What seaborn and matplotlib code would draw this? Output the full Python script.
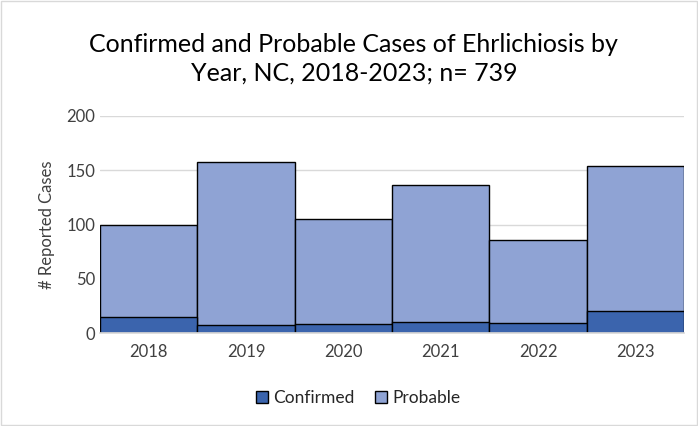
import matplotlib.pyplot as plt
import seaborn as sns
import pandas as pd
from matplotlib.patches import Patch

years = ["2018", "2019", "2020", "2021", "2022", "2023"]
confirmed = [15, 7, 8, 10, 9, 20]
probable = [85, 151, 97, 126, 77, 134]

sns.set_theme(style="white")
plt.rcParams["font.family"] = ["Lato", "DejaVu Sans"]

df = pd.DataFrame({"year": years, "confirmed": confirmed, "probable": probable})
df["total"] = df["confirmed"] + df["probable"]

c_conf = "#3B64AD"
c_prob = "#8FA3D4"

fig = plt.figure(figsize=(6.98, 4.26), dpi=100)
ax = fig.add_axes([100 / 698, 1 - 333 / 426, 584 / 698, 217 / 426])

sns.barplot(data=df, x="year", y="total", color=c_prob, width=1.0,
            edgecolor="black", linewidth=1.0, saturation=1, ax=ax)
sns.barplot(data=df, x="year", y="confirmed", color=c_conf, width=1.0,
            edgecolor="black", linewidth=1.0, saturation=1, ax=ax)

ax.set_ylim(0, 200)
ax.set_xlim(-0.5, 5.5)
ax.set_yticks([0, 50, 100, 150, 200])
ax.yaxis.grid(True, color="#D9D9D9", linewidth=1)
ax.set_axisbelow(True)
for s in ["top", "right", "left"]:
    ax.spines[s].set_visible(False)
ax.spines["bottom"].set_color("#D9D9D9")
ax.tick_params(axis="both", length=0, labelsize=12, colors="#404040")
ax.tick_params(axis="x", pad=8)
ax.set_xlabel("")
ax.set_ylabel("# Reported Cases", fontsize=12, color="#404040", labelpad=8)

fig.suptitle("Confirmed and Probable Cases of Ehrlichiosis by\nYear, NC, 2018-2023; n= 739",
             x=0.507, y=0.922, fontsize=18, color="black", linespacing=1.3)

handles = [Patch(facecolor=c_conf, edgecolor="black", label="Confirmed"),
           Patch(facecolor=c_prob, edgecolor="black", label="Probable")]
leg = fig.legend(handles=handles, loc="center", bbox_to_anchor=(0.513, 1 - 398 / 426),
                 ncol=2, frameon=False, fontsize=12.5, handlelength=0.7, handleheight=0.7,
                 handletextpad=0.3, columnspacing=1.2)
for t in leg.get_texts():
    t.set_color("#262626")

fig.patches.append(plt.Rectangle((0.002, 0.002), 0.996, 0.996, transform=fig.transFigure,
                                 fill=False, edgecolor="#D9D9D9", linewidth=1))

fig.savefig("out.png", dpi=100)
